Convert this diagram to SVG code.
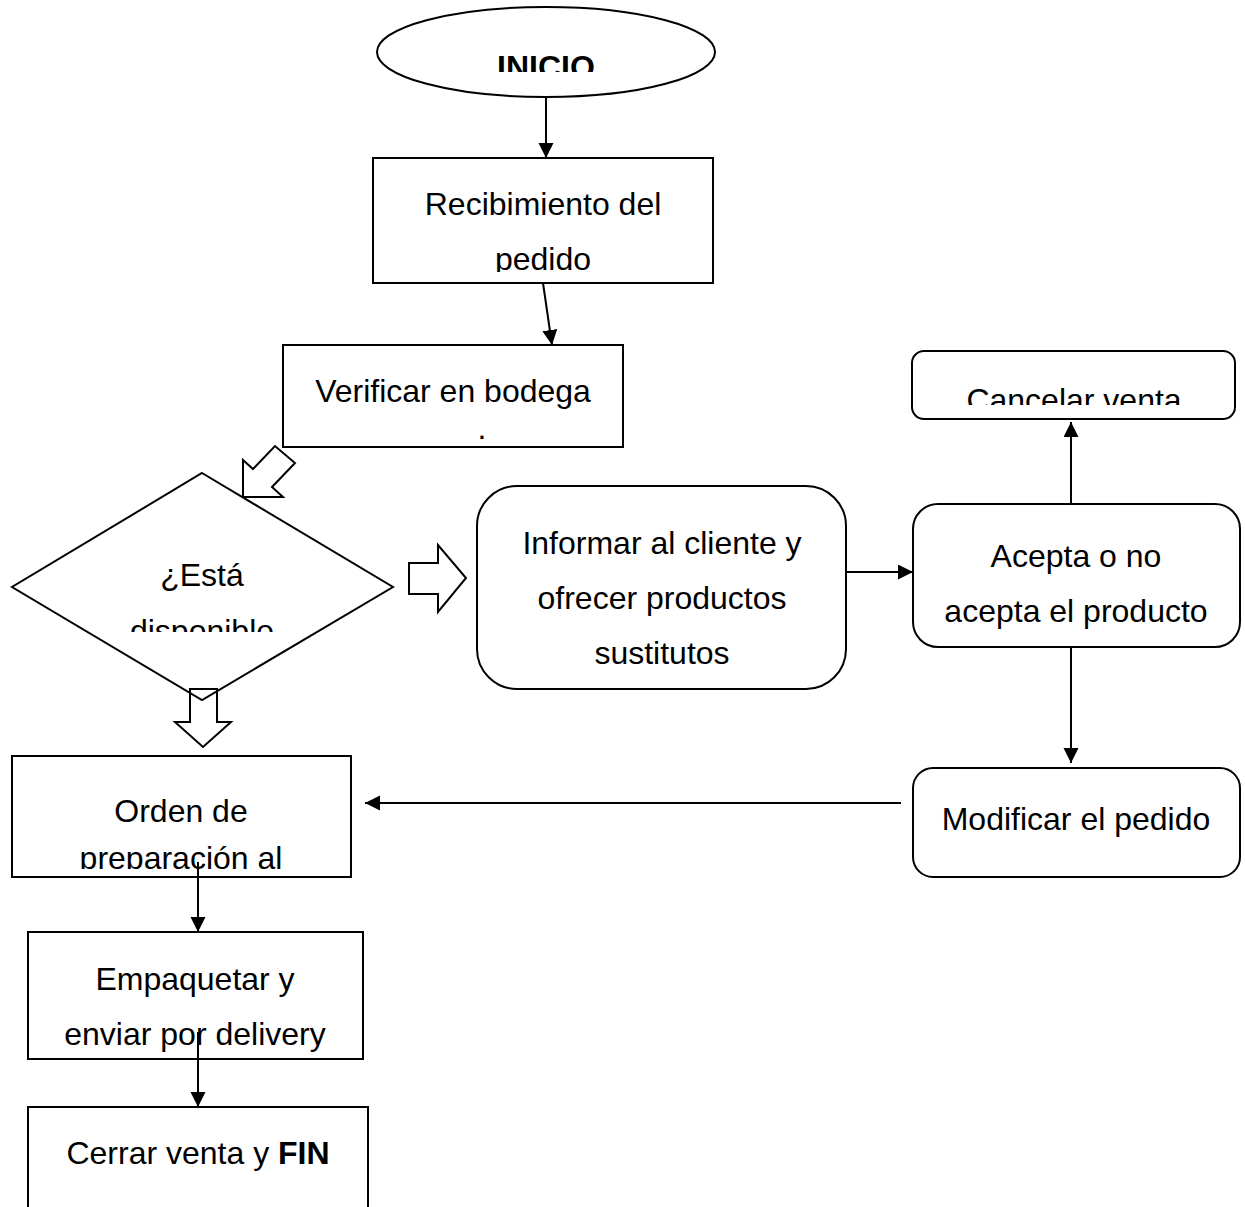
<svg xmlns="http://www.w3.org/2000/svg" width="1245" height="1207" viewBox="0 0 1245 1207">
<style>
.s{fill:#fff;stroke:#000;stroke-width:2}
.t{font-family:"Liberation Sans",Arial,sans-serif;font-size:32px;fill:#000;text-anchor:middle}
.b{font-weight:bold}
.c{fill:none;stroke:#000;stroke-width:2}
.h{fill:none;stroke:#000;stroke-width:2;stroke-linejoin:miter}
</style>
<defs>
<marker id="ah" markerUnits="userSpaceOnUse" markerWidth="16" markerHeight="16" refX="15" refY="7.5" orient="auto">
<path d="M0,0 L15,7.5 L0,15 z" fill="#000"/>
</marker>
<clipPath id="cInicio"><rect x="370" y="0" width="360" height="72"/></clipPath>
<clipPath id="cRec"><rect x="373" y="158" width="340" height="114"/></clipPath>
<clipPath id="cCan"><rect x="912" y="351" width="323" height="54"/></clipPath>
<clipPath id="cDia"><rect x="12" y="473" width="381" height="159"/></clipPath>
<clipPath id="cOrd"><rect x="12" y="756" width="339" height="113"/></clipPath>
</defs>
<rect width="1245" height="1207" fill="#fff"/>

<g id="inicio">
<ellipse class="s" cx="546" cy="52" rx="169" ry="45"/>
<text class="t b" x="546" y="78" clip-path="url(#cInicio)">INICIO</text>
</g>

<g id="recibimiento">
<rect class="s" x="373" y="158" width="340" height="125"/>
<g clip-path="url(#cRec)">
<text class="t" x="543" y="215">Recibimiento del</text>
<text class="t" x="543" y="270">pedido</text>
</g>
</g>

<g id="verificar">
<rect class="s" x="283" y="345" width="340" height="102"/>
<text class="t" x="453" y="402">Verificar en bodega</text>
<text class="t" x="482" y="439">.</text>
</g>

<g id="disponible">
<polygon class="s" points="202,473 393,587 202,700 12,587"/>
<g clip-path="url(#cDia)">
<text class="t" x="202" y="586">¿Está</text>
<text class="t" x="202" y="642">disponible</text>
</g>
</g>

<g id="informar">
<rect class="s" x="477" y="486" width="369" height="203" rx="40" ry="40"/>
<text class="t" x="662" y="554">Informar al cliente y</text>
<text class="t" x="662" y="609">ofrecer productos</text>
<text class="t" x="662" y="664">sustitutos</text>
</g>

<g id="cancelar">
<rect class="s" x="912" y="351" width="323" height="68" rx="12" ry="12"/>
<text class="t" x="1074" y="411" clip-path="url(#cCan)">Cancelar venta</text>
</g>

<g id="acepta">
<rect class="s" x="913" y="504" width="327" height="143" rx="25" ry="25"/>
<text class="t" x="1076" y="567">Acepta o no</text>
<text class="t" x="1076" y="622">acepta el producto</text>
</g>

<g id="modificar">
<rect class="s" x="913" y="768" width="327" height="109" rx="20" ry="20"/>
<text class="t" x="1076" y="830">Modificar el pedido</text>
</g>

<g id="orden">
<rect class="s" x="12" y="756" width="339" height="121"/>
<g clip-path="url(#cOrd)">
<text class="t" x="181" y="822">Orden de</text>
<text class="t" x="181" y="869">preparación al</text>
</g>
</g>

<g id="empaquetar">
<rect class="s" x="28" y="932" width="335" height="127"/>
<text class="t" x="195" y="990">Empaquetar y</text>
<text class="t" x="195" y="1045">enviar por delivery</text>
</g>

<g id="cerrar">
<rect class="s" x="28" y="1107" width="340" height="120"/>
<text class="t" x="198" y="1164">Cerrar venta y <tspan class="b">FIN</tspan></text>
</g>

<g id="connectors">
<line class="c" x1="546" y1="97" x2="546" y2="158" marker-end="url(#ah)"/>
<line class="c" x1="543" y1="283" x2="552" y2="345" marker-end="url(#ah)"/>
<line class="c" x1="846" y1="572" x2="913" y2="572" marker-end="url(#ah)"/>
<line class="c" x1="1071" y1="504" x2="1071" y2="422" marker-end="url(#ah)"/>
<line class="c" x1="1071" y1="647" x2="1071" y2="763" marker-end="url(#ah)"/>
<line class="c" x1="901" y1="803" x2="365" y2="803" marker-end="url(#ah)"/>
<line class="c" x1="198" y1="862" x2="198" y2="932" marker-end="url(#ah)"/>
<line class="c" x1="198" y1="1032" x2="198" y2="1107" marker-end="url(#ah)"/>
<polygon class="h" points="243,460 253,469 275,446 295,463 272,487 283,497 243,497"/>
<polygon class="h" points="409,563 438,563 438,545 466,578 438,612 438,594 409,594"/>
<polygon class="h" points="190,689 217,689 217,722 231,722 203,747 175,722 190,722"/>
</g>
</svg>
